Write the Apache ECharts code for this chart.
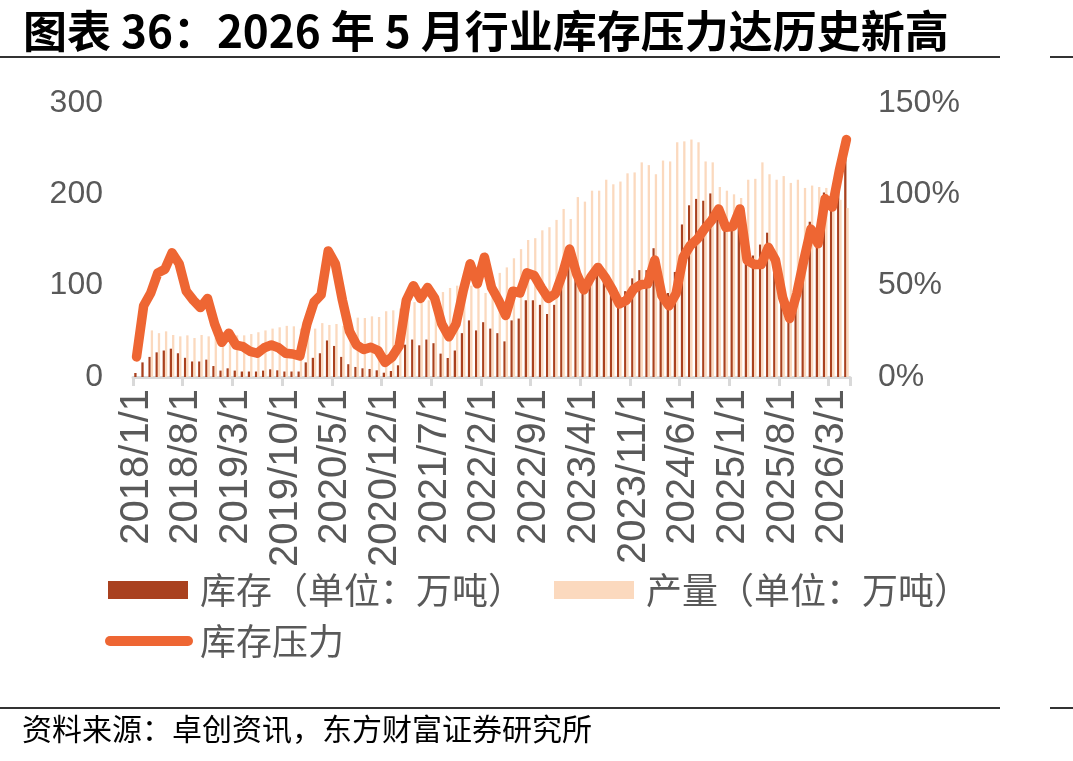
<!DOCTYPE html>
<html>
<head>
<meta charset="utf-8">
<script src="https://cdn.jsdelivr.net/npm/echarts@6/dist/echarts.min.js"></script>
<style>
  html, body { margin: 0; padding: 0; background: #fff; }
  #chart { width: 1073px; height: 761px; }
</style>
</head>
<body>
<div id="chart"></div>
<script>
// months 2018/1 .. 2026/5
const months = [];
for (let y = 2018; y <= 2026; y++) {
  for (let m = 1; m <= 12; m++) {
    if (y === 2026 && m > 5) break;
    months.push(y + "/" + m + "/1");
  }
}

// 库存（万吨）
const inventory = [
  4.4, 16, 22, 27, 29, 31, 26, 21, 17, 17, 19, 12,
  7, 9.5, 7, 6, 6, 6, 7, 8.4, 7.3, 6, 6, 6,
  16, 21, 26, 40, 34, 22, 14, 11, 9.5, 8.8, 7.3, 4.7,
  6.6, 12.8, 35.4, 41, 34.7, 41, 37, 25.6, 20.8, 29, 48, 62,
  51, 60, 53, 48, 39, 62, 64, 84, 84, 79, 69, 79,
  104, 121, 111, 92, 112, 122, 118, 101, 86, 94, 108, 117,
  117, 141, 104, 92, 115, 167, 188, 195, 193, 201, 188, 167,
  165, 180, 138, 133, 145, 158, 138, 96, 68, 98, 133, 170,
  152, 202, 195, 219, 240
];

// 产量（万吨）
const production = [
  null, null, 51, 48, 50, 46, 44.5, 45.6, 42.7, 46, 44.5, 43,
  40, 42, 45.6, 45.6, 47, 49, 51, 53, 54.4, 56, 55.5, 53,
  55, 53, 59, 57, 58, 56, 58, 65, 64.6, 66.4, 65.7, 72,
  73, 75, 84, 82, 81, 84, 86, 93, 97.5, 100, 100, 100,
  98, 92, 107, 114, 120, 130, 140, 150, 152, 160.6, 164, 172,
  184, 173, 197, 192, 204, 204, 216, 211, 214, 223, 224, 235,
  232, 222, 237, 236, 257, 258, 260, 257, 236, 235, 208, 204,
  200, 196, 216, 217, 235, 222, 216, 220, 212.5, 216, 207, 209.6,
  208, 207, 210, 194, 185
];

// 库存压力（%）
const pressure = [
  11, 39, 46, 57, 59, 68, 62, 47, 42, 38, 43, 29,
  19, 24, 17.5, 16.6, 14, 13, 16, 17.5, 16, 13, 12.6, 11.5,
  29, 41, 45, 69, 62, 42, 25, 17.5, 15, 16.3, 14.5, 8,
  11, 17, 42, 50, 43, 49, 43, 29, 22, 29, 47, 62,
  51, 65.6, 49, 42, 33.7, 47, 46, 57, 55.6, 49, 43, 45.6,
  56.4, 70, 56.4, 47.7, 54.7, 60, 54.6, 48, 40, 42, 48, 50.5,
  51, 64, 44.6, 39, 45.6, 65.6, 72, 75.6, 81, 85.7, 92, 82,
  82.4, 92, 64, 61.6, 61.6, 71, 64, 43.7, 32, 45.6, 64, 81,
  73, 97.6, 93, 113, 130
];

const numFont = "'Liberation Sans', Arial, sans-serif";
const cjkFont = "'Noto Sans CJK SC', sans-serif";
const grey = "#595959";

const chart = echarts.init(document.getElementById("chart"));

const option = {
  backgroundColor: "#fff",
  animation: false,
  title: {
    text: "图表 36：2026 年 5 月行业库存压力达历史新高",
    left: 18,
    top: 4,
    textStyle: {
      fontSize: 44,
      fontWeight: "bold",
      color: "#000",
      fontFamily: cjkFont
    }
  },
  graphic: [
    { type: "rect", shape: { x: 0, y: 56, width: 1000, height: 2 }, style: { fill: "#333" } },
    { type: "rect", shape: { x: 1050, y: 56, width: 23, height: 2 }, style: { fill: "#333" } },
    { type: "rect", shape: { x: 0, y: 707, width: 1000, height: 2 }, style: { fill: "#333" } },
    { type: "rect", shape: { x: 1050, y: 707, width: 23, height: 2 }, style: { fill: "#333" } },
    {
      type: "text",
      left: 22,
      top: 714,
      style: {
        text: "资料来源：卓创资讯，东方财富证券研究所",
        fontSize: 30,
        fill: "#000",
        fontFamily: cjkFont
      }
    }
  ],
  legend: [
    {
      data: ["库存（单位：万吨）", "产量（单位：万吨）"],
      left: 103,
      top: 567,
      itemWidth: 80,
      itemHeight: 18,
      itemGap: 30,
      icon: "rect",
      textStyle: { fontSize: 36, color: grey, fontFamily: cjkFont, padding: [0, 0, 0, 7] }
    },
    {
      data: ["库存压力"],
      left: 100,
      top: 618,
      itemWidth: 88,
      itemHeight: 10,
      icon: "path://M5,0 L83,0 A5,5 0 0 1 83,10 L5,10 A5,5 0 0 1 5,0 Z",
      textStyle: { fontSize: 36, color: grey, fontFamily: cjkFont, padding: [0, 0, 0, 2] }
    }
  ],
  grid: {
    left: 133,
    right: 223,
    top: 103,
    bottom: 384,
    containLabel: false
  },
  xAxis: {
    type: "category",
    data: months,
    boundaryGap: true,
    axisLine: { lineStyle: { color: "#d9d9d9", width: 3 } },
    axisTick: { show: true, interval: 6, length: 9, lineStyle: { color: "#d9d9d9", width: 3 } },
    axisLabel: {
      interval: 6,
      rotate: 90,
      margin: 12,
      fontSize: 40,
      color: grey,
      fontFamily: numFont
    }
  },
  yAxis: [
    {
      type: "value",
      min: 0,
      max: 300,
      interval: 100,
      axisLine: { show: false },
      axisTick: { show: false },
      splitLine: { show: false },
      axisLabel: { fontSize: 32, color: grey, margin: 30, fontFamily: numFont }
    },
    {
      type: "value",
      min: 0,
      max: 150,
      interval: 50,
      position: "right",
      axisLine: { show: false },
      axisTick: { show: false },
      splitLine: { show: false },
      axisLabel: { fontSize: 32, color: grey, margin: 28, formatter: "{value}%", fontFamily: numFont }
    }
  ],
  series: [
    {
      name: "库存（单位：万吨）",
      type: "bar",
      data: inventory,
      barWidth: 2.3,
      barGap: "0%",
      itemStyle: { color: "#A9411F" }
    },
    {
      name: "产量（单位：万吨）",
      type: "bar",
      data: production,
      barWidth: 2.3,
      itemStyle: { color: "#FBD9BE" }
    },
    {
      name: "库存压力",
      type: "line",
      yAxisIndex: 1,
      data: pressure,
      showSymbol: false,
      symbol: "none",
      z: 5,
      lineStyle: { color: "#EE6633", width: 9.5, cap: "round", join: "round" },
      itemStyle: { color: "#EE6633" }
    }
  ]
};

chart.setOption(option);
</script>
</body>
</html>
